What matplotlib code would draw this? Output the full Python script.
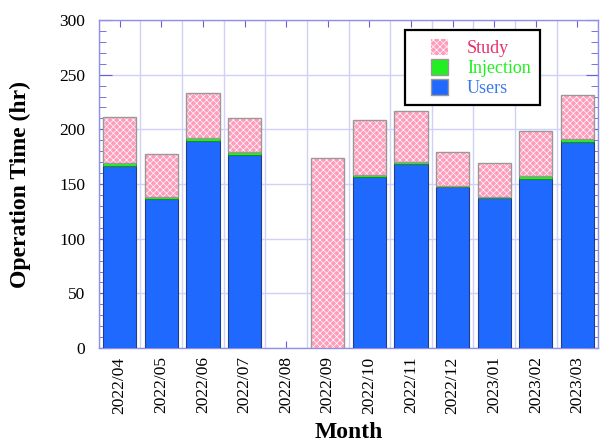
import numpy as np
import matplotlib
matplotlib.use('Agg')
import matplotlib.pyplot as plt
from matplotlib.patches import Patch, Rectangle

months = ['2022/04', '2022/05', '2022/06', '2022/07', '2022/08', '2022/09',
          '2022/10', '2022/11', '2022/12', '2023/01', '2023/02', '2023/03']
users = [166.5, 136.5, 189.3, 176.5, 0, 0, 156.4, 168.6, 147.0, 137.0, 154.6, 188.7]
injection = [3.0, 2.0, 2.5, 2.5, 0, 0, 1.8, 1.5, 1.2, 1.4, 3.0, 2.2]
study = [42.1, 38.9, 41.2, 31.0, 0, 173.5, 50.3, 46.9, 30.8, 30.5, 40.9, 40.8]

plt.rcParams['font.family'] = 'Liberation Serif'
plt.rcParams['hatch.linewidth'] = 0.5

c_users = '#2069ff'
c_inj = '#22ee22'
c_study = '#ff9cbc'
pink_hatch = 'xxxxx'

fig = plt.figure(figsize=(6.03, 4.44), dpi=100)
ax = fig.add_axes([0.164, 0.216, 0.828, 0.739])

x = np.arange(len(months))
w = 0.8
users = np.array(users)
injection = np.array(injection)
study = np.array(study)

def lw(vals, width):
    # no outline for empty months
    return [width if v > 0 else 0 for v in vals]

ax.bar(x, users, w, color=c_users, edgecolor='#203c8c', linewidth=lw(users, 0.8), zorder=3)
ax.bar(x, injection, w, bottom=users, color=c_inj, edgecolor='#1a8a1a',
       linewidth=lw(injection, 0.6), zorder=3)
# study: pink with white checker, grey outline drawn on top
b0 = users + injection
ax.bar(x, study, w, bottom=b0, color=c_study, edgecolor='white', hatch=pink_hatch,
       linewidth=0, zorder=3)
ax.bar(x, study, w, bottom=b0, color='none', edgecolor='#999999',
       linewidth=lw(study, 1.0), zorder=4)

ax.set_xlim(-0.5, len(months) - 0.5)
ax.set_ylim(0, 300)
ax.set_yticks(np.arange(0, 301, 50))
ax.set_yticks(np.arange(0, 301, 10), minor=True)
ax.set_xticks(x)
ax.set_xticklabels(months, rotation=90)
ax.set_xticks(np.arange(-0.5, len(months), 1), minor=True)

ax.grid(axis='y', which='major', color='#d0d0f8', linewidth=1.0, zorder=0)
ax.grid(axis='x', which='minor', color='#d0d0f8', linewidth=1.0, zorder=0)

for s in ax.spines.values():
    s.set_color('#9090e8')
    s.set_linewidth(1.0)
ax.tick_params(axis='both', which='both', direction='in', colors='#6060d8',
               labelcolor='black', labelsize=12.5, top=True, right=True)
ax.tick_params(axis='y', which='major', length=9, pad=10)
ax.tick_params(axis='y', which='minor', length=5)
ax.tick_params(axis='x', which='major', length=5, pad=6)
ax.tick_params(axis='x', which='minor', length=0)

ax.set_ylabel('Operation Time (hr)', fontsize=17, fontweight='bold', labelpad=20)
ax.set_xlabel('Month', fontsize=17, fontweight='bold', labelpad=6)

# legend box drawn separately so the entries can sit inset like the original
ax.add_patch(Rectangle((0.613, 0.741), 0.271, 0.229, transform=ax.transAxes,
                       facecolor='white', edgecolor='black', linewidth=1.6,
                       zorder=9, clip_on=False))
handles = [Patch(facecolor=c_study, edgecolor='white', hatch=pink_hatch, linewidth=0),
           Patch(facecolor=c_inj, edgecolor='#999999'),
           Patch(facecolor=c_users, edgecolor='#999999')]
leg = ax.legend(handles, ['Study', 'Injection', 'Users'], loc='upper left',
                bbox_to_anchor=(0.665, 0.942), fontsize=13, frameon=False,
                handlelength=0.95, handleheight=0.95, handletextpad=1.05,
                labelspacing=0.11, borderpad=0, borderaxespad=0)
leg.set_zorder(10)
for t, c in zip(leg.get_texts(), ['#e8306a', '#22ee22', '#3a7af0']):
    t.set_color(c)

fig.savefig('out.png', dpi=100)
